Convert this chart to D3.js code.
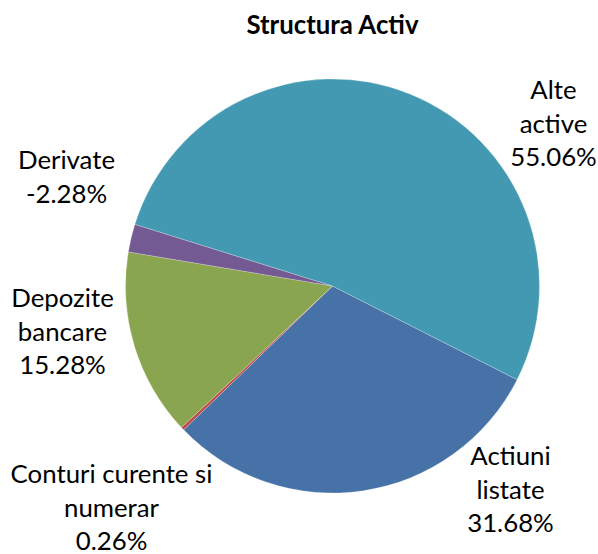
<!DOCTYPE html>
<html lang="ro">
<head>
  <meta charset="UTF-8" />
  <title>Structura Activ</title>
  <script src="https://d3js.org/d3.v7.min.js"></script>
  <style>
    body {
      margin: 0;
      background: #ffffff;
      font-family: Lato, 'Noto Sans', sans-serif;
    }
    svg { display: block; }
    .title { font-weight: bold; font-size: 25.8px; fill: #000; }
    .lbl { font-size: 25.8px; fill: #000; }
  </style>
</head>
<body>
  <svg width="598" height="554"></svg>

  <script>
    // data (Derivate is negative, the pie uses its absolute size)
    const categories = ["Actiuni listate", "Conturi curente si numerar", "Depozite bancare", "Derivate", "Alte active"];
    const values = [31.68, 0.26, 15.28, -2.28, 55.06];
    const labelLines = [
      ["Actiuni", "listate"],
      ["Conturi curente si", "numerar"],
      ["Depozite", "bancare"],
      ["Derivate"],
      ["Alte", "active"]
    ];
    const colors = ["#4672a8", "#be4b48", "#8aa54f", "#745a93", "#4399b1"];

    const width = 598, height = 554;
    const cx = 332.5, cy = 286, radius = 207;

    // where Excel put each data label block (centre x, first baseline), relative to pie centre
    const labelOffsets = [
      [178, 179],
      [-221, 197],
      [-270, 21],
      [-266, -117],
      [221, -187]
    ];
    const lineH = 33.5;

    const svg = d3.select("svg");

    svg.append("text")
      .attr("class", "title")
      .attr("x", cx)
      .attr("y", 34)
      .attr("text-anchor", "middle")
      .text("Structura Activ");

    const rows = categories.map((c, i) => ({ name: c, value: values[i], lines: labelLines[i], color: colors[i], i }));

    const pie = d3.pie()
      .sort(null)
      .value(d => Math.abs(d.value))
      .startAngle(116.9 * Math.PI / 180)
      .endAngle((116.9 + 360) * Math.PI / 180);

    const arc = d3.arc().innerRadius(0).outerRadius(radius);

    const g = svg.append("g").attr("transform", `translate(${cx},${cy})`);

    g.selectAll("path")
      .data(pie(rows))
      .join("path")
      .attr("d", arc)
      .attr("fill", d => d.data.color)
      .attr("stroke", "#ffffff")
      .attr("stroke-width", 0.4)
      .attr("stroke-opacity", 0.6);

    const fmt = v => v.toFixed(2) + "%";

    const lbl = g.selectAll("text.lbl")
      .data(rows)
      .join("text")
      .attr("class", "lbl")
      .attr("text-anchor", "middle");

    lbl.each(function (d) {
      const t = d3.select(this);
      const [ox, oy] = labelOffsets[d.i];
      const lines = d.lines.concat([fmt(d.value)]);
      lines.forEach((s, k) => {
        t.append("tspan")
          .attr("x", ox)
          .attr("y", oy + k * lineH)
          .text(s);
      });
    });
  </script>
</body>
</html>
